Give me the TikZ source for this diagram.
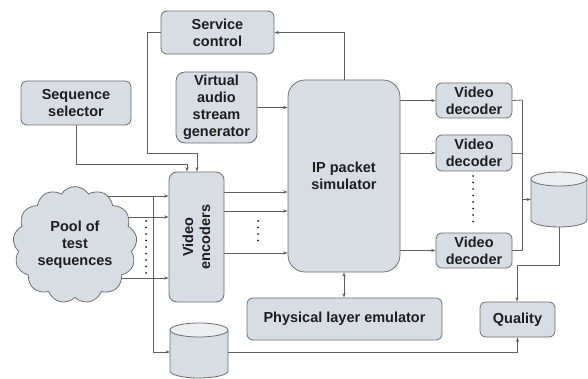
\documentclass[tikz,border=0pt]{standalone}
\usepackage{fontspec}
\setmainfont{Liberation Sans}
\usetikzlibrary{shapes.symbols,arrows.meta,backgrounds}
\definecolor{boxfill}{RGB}{216,221,228}
\definecolor{capfill}{RGB}{236,238,241}
\definecolor{edge}{RGB}{110,110,110}
\definecolor{wire}{RGB}{95,95,95}
\definecolor{ink}{RGB}{30,30,30}
\tikzset{
  lbl/.style={font=\fontsize{14.5}{17}\selectfont\bfseries, text=ink, align=center},
  blk/.style={lbl, draw=edge, line width=0.8pt, fill=boxfill, rounded corners=6pt, inner sep=1pt},
  slot/.style={inner sep=0pt, outer sep=0pt},
  outline/.style={draw=edge, line width=0.8pt},
  arr/.style={draw=wire, line width=0.8pt, -{Stealth[length=4.5pt,width=3.2pt]}},
  wireline/.style={draw=wire, line width=0.8pt},
  dots/.style={draw=ink, line width=2pt, line cap=round, dash pattern=on 0pt off 6.5pt},
}
% a storage drum drawn over the frame of a named node
\newcommand{\drum}[2]{% node name, half width
  \draw[outline, fill=boxfill] ([yshift=-7pt]#1.north west) -- ([yshift=7pt]#1.south west)
    arc[start angle=180, end angle=360, x radius=#2, y radius=7pt]
    -- ([yshift=-7pt]#1.north east) -- cycle;
  \draw[outline, fill=capfill] ([yshift=-7pt]#1.north) ellipse[x radius=#2, y radius=7pt];
}
\begin{document}
\begin{tikzpicture}[x=1pt, y=-1pt]
\useasboundingbox (0,0) rectangle (588,379);

% blocks
\node[blk, minimum width=113pt, minimum height=43pt] (svc) at (217.5,32.5) {Service\\control};
\node[blk, minimum width=81pt, minimum height=71pt, rounded corners=9pt, inner sep=0pt] (vasg) at (216.5,107.5) {Virtual\\audio\\stream\\generator};
\node[blk, minimum width=110pt, minimum height=44pt] (seqsel) at (76,103) {Sequence\\selector};
\node[blk, minimum width=55pt, minimum height=130pt, rounded corners=8pt] (enc) at (196.5,237) {};
\node[lbl, rotate=90] (enclabel) at (enc.center) {Video\\encoders};
\node[blk, minimum width=112pt, minimum height=192pt, rounded corners=17pt] (ip) at (344,176) {IP packet\\simulator};
\node[blk, minimum width=76pt, minimum height=35pt] (dec1) at (474,100.5) {Video\\decoder};
\node[blk, minimum width=76pt, minimum height=36pt] (dec2) at (474,153) {Video\\decoder};
\node[blk, minimum width=76pt, minimum height=35pt] (dec3) at (474,250.5) {Video\\decoder};
\node[blk, minimum width=195pt, minimum height=42pt] (phys) at (344.5,319) {Physical layer emulator};
\node[blk, minimum width=75pt, minimum height=35pt] (qual) at (517.5,319.5) {Quality};
\node[lbl, cloud, cloud puffs=13, cloud puff arc=115, draw=edge, line width=0.8pt, fill=boxfill,
      minimum width=124pt, minimum height=108pt, inner sep=0pt] (pool) at (75,245) {Pool of\\test\\sequences};

% storage drums
\node[slot, minimum width=56pt, minimum height=55pt] (db1) at (559,199.5) {};
\node[slot, minimum width=58pt, minimum height=55pt] (db2) at (199,350.5) {};
\drum{db1}{28pt}
\drum{db2}{29pt}

% junction points
\coordinate (svcdrop) at (147,153);
\coordinate (seqdrop) at (77,164);
\coordinate (busL) at (153,196);
\coordinate (busR) at (522,100);
\coordinate (dbturn) at (517,265);

\begin{scope}[on background layer]
  % control paths into the encoders
  \draw[arr] (svc.west) -| (svcdrop) -| ([xshift=0.5pt]enc.north);
  \draw[arr] (seqsel.south) |- ([xshift=-9.5pt]enc.north |- seqdrop) -- ([xshift=-9.5pt]enc.north);
  % feedback to service control
  \draw[arr] (ip.north) |- (svc.east);
  % audio into the packet simulator
  \draw[arr] (vasg.east) -- (vasg.east -| ip.west);
  % sequences into the encoders
  \draw[arr] (pool.center |- busL) -- (enc.west |- busL);
  \draw[arr] (pool.center |- 0,217) -- (enc.west |- 0,217);
  \draw[arr] (pool.center |- 0,278) -- (enc.west |- 0,278);
  % reference copies to storage
  \draw[wireline] (busL) -- (busL |- 0,352);
  \draw[arr] (busL |- 0,352) -- (db2.west |- 0,352);
  % encoders to packet simulator
  \draw[arr] (enc.east |- 0,192) -- (ip.west |- 0,192);
  \draw[arr] (enc.east |- 0,211) -- (ip.west |- 0,211);
  \draw[arr] (enc.east |- 0,253) -- (ip.west |- 0,253);
  % packet simulator to decoders
  \draw[arr] (dec1.west -| ip.east) -- (dec1.west);
  \draw[arr] (dec2.west -| ip.east) -- (dec2.west);
  \draw[arr] (dec3.west -| ip.east) -- (dec3.west);
  % decoder outputs to storage
  \draw[wireline] (dec1.east) -- (busR);
  \draw[wireline] (dec2.east) -- (dec2.east -| busR);
  \draw[wireline] (dec3.east) -- (dec3.east -| busR);
  \draw[wireline] (busR) -- (busR |- dec3.east);
  \draw[arr] (busR |- db1.west) -- (db1.west);
  % storage to quality
  \draw[arr] (db1.south) |- (dbturn) -- (dbturn |- qual.north);
  \draw[arr] (db2.east |- 0,352) -| (qual.south);
  % physical layer link
  \draw[draw=wire, line width=0.8pt, {Stealth[length=4.5pt,width=3.2pt]}-{Stealth[length=4.5pt,width=3.2pt]}] (ip.south) -- (ip.south |- phys.north);
\end{scope}

% elision dots
\draw[dots] (146,221) -- (146,274);
\draw[dots] (258,221) -- (258,244);
\draw[dots] (473,176) -- (473,223);
\end{tikzpicture}
\end{document}
